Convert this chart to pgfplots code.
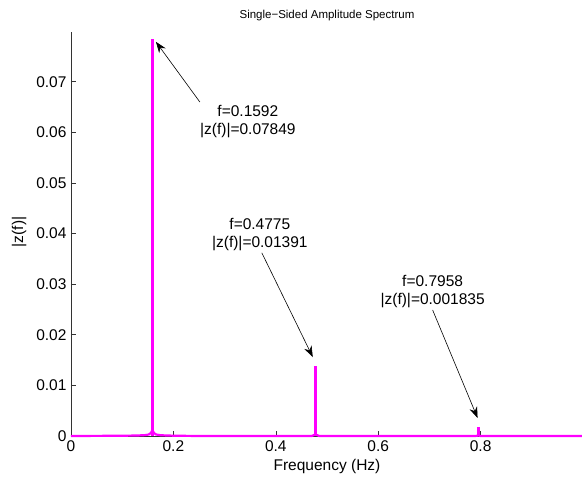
\documentclass[border=0pt]{standalone}
\usepackage{fontspec}
\setmainfont{Liberation Sans}
\usepackage{pgfplots}
\pgfplotsset{compat=1.18}
\usetikzlibrary{arrows.meta}

\definecolor{spec}{RGB}{255,0,255}

\begin{document}
\begin{tikzpicture}
\path[use as bounding box] (-71bp,-44bp) rectangle (511bp,436bp);
\begin{axis}[
    at={(0,0)}, anchor=south west,
    scale only axis,
    width=512bp, height=404bp,
    xmin=0, xmax=1,
    ymin=0, ymax=0.07984,
    xtick={0,0.2,0.4,0.6,0.8},
    ytick={0,0.01,0.02,0.03,0.04,0.05,0.06,0.07},
    scaled y ticks=false,
    scaled x ticks=false,
    axis x line*=bottom,
    axis y line*=left,
    axis line style={black!80, line width=0.6pt, -},
    tick style={black!80, line width=0.6pt},
    tick align=inside,
    major tick length=5bp,
    clip=false,
    font=\fontsize{15.5bp}{18bp}\selectfont,
    /pgf/number format/assume math mode=true,
    /pgf/number format/fixed,
    /pgf/number format/precision=3,
    yticklabel style={xshift=-1bp},
    xticklabel style={yshift=-1bp},
    every axis title shift=0pt,
    title={Single\textminus Sided Amplitude Spectrum},
    title style={font=\fontsize{11.5bp}{13bp}\selectfont, at={(axis description cs:0.5,1.042)}, anchor=center, yshift=0pt},
    xlabel={Frequency (Hz)},
    xlabel style={at={(axis description cs:0.5,-0.0743)}, anchor=center},
    ylabel={|z(f)|},
    ylabel style={at={(axis description cs:-0.1015,0.505)}, anchor=center},
]
% noise floor and skirts
\addplot[spec, line width=2.2pt, line join=round] coordinates {
    (0,0) (0.10,0.00005) (0.13,0.0001) (0.145,0.00018) (0.152,0.0003)
    (0.156,0.0006) (0.1592,0.0012) (0.162,0.0006) (0.166,0.0003)
    (0.175,0.00015) (0.20,0.00006) (0.25,0)
    (0.47,0) (0.4775,0.0003) (0.485,0)
    (0.79,0) (0.7958,0.0001) (0.80,0)
    (1,0)
};
% spectral peaks
\addplot[spec, line width=2.4pt, ycomb, line cap=butt] coordinates {
    (0.1592,0.07849) (0.4775,0.01391) (0.7958,0.001835)
};
\draw[-{Stealth[length=11bp,width=8bp]}, line width=0.6pt] (axis cs:0.2517,0.0660) -- (axis cs:0.1659,0.0779);
\node[align=center, font=\fontsize{15.5bp}{18bp}\selectfont] at (axis cs:0.3454,0.0621) {f=0.1592\\|z(f)|=0.07849};
\draw[-{Stealth[length=11bp,width=8bp]}, line width=0.6pt] (axis cs:0.3727,0.0362) -- (axis cs:0.4722,0.0156);
\node[align=center, font=\fontsize{15.5bp}{18bp}\selectfont] at (axis cs:0.3688,0.0399) {f=0.4775\\|z(f)|=0.01391};
\draw[-{Stealth[length=11bp,width=8bp]}, line width=0.6pt] (axis cs:0.7063,0.0249) -- (axis cs:0.7941,0.00356);
\node[align=center, font=\fontsize{15.5bp}{18bp}\selectfont] at (axis cs:0.7063,0.0285) {f=0.7958\\|z(f)|=0.001835};
\end{axis}
\end{tikzpicture}
\end{document}
